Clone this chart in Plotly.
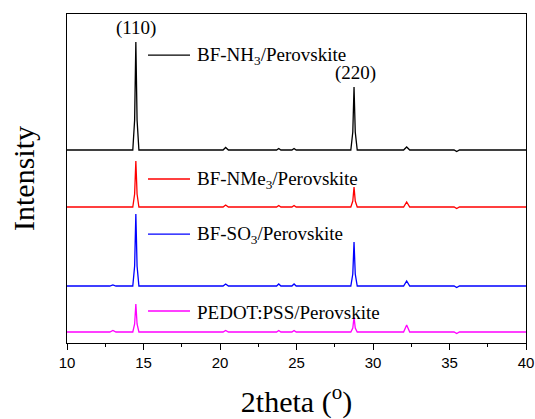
import plotly.graph_objects as go

two_theta = [10, 12.8, 13.0, 13.2, 14.3, 14.42, 14.5, 14.58, 14.7,
             20.2, 20.37, 20.55, 23.7, 23.84, 23.98, 24.7, 24.84, 24.98,
             28.55, 28.68, 28.76, 28.84, 28.97, 32.0, 32.2, 32.4,
             35.3, 35.47, 35.65, 40]

series_names = ["BF-NH<sub>3</sub>/Perovskite", "BF-NMe<sub>3</sub>/Perovskite",
                "BF-SO<sub>3</sub>/Perovskite", "PEDOT:PSS/Perovskite"]
series_colors = ["#000000", "#FF0000", "#0000FF", "#FF00FF"]
offsets = [193, 136, 57, 11]

int_nh3 = [0, 0, 0.5, 0, 0, 30, 108, 30, 0, 0, 2.5, 0, 0, 1.5, 0, 0, 1.5, 0,
           0, 18, 63, 18, 0, 0, 3, 0, 0, -1.5, 0, 0]
int_nme3 = [0, 0, 0.5, 0, 0, 13, 46, 13, 0, 0, 2, 0, 0, 1.5, 0, 0, 1.5, 0,
            0, 6, 20, 6, 0, 0, 5, 0, 0, -1.5, 0, 0]
int_so3 = [0, 0, 1, 0, 0, 20, 72, 20, 0, 0, 2, 0, 0, 2, 0, 0, 2, 0,
           0, 12, 44, 12, 0, 0, 5, 0, 0, -1.5, 0, 0]
int_pedot = [0, 0, 1.5, 0, 0, 8, 28, 8, 0, 0, 1.5, 0, 0, 1.5, 0, 0, 1.5, 0,
             0, 4, 15, 4, 0, 0, 7, 0, 0, -1.5, 0, 0]
intensities = [int_nh3, int_nme3, int_so3, int_pedot]

label_y = [0.875, 0.4985, 0.331, 0.0973]
peak_labels = ["(110)", "(220)"]
peak_label_x = [14.5, 28.85]
peak_label_y = [315, 270]

serif = "Liberation Serif"

fig = go.Figure()
for name, color, off, vals in zip(series_names, series_colors, offsets, intensities):
    fig.add_trace(go.Scatter(x=two_theta, y=[v + off for v in vals], mode="lines",
                             line=dict(color=color, width=1.3), name=name,
                             showlegend=False))

shapes = []
annotations = []
for name, color, ly in zip(series_names, series_colors, label_y):
    shapes.append(dict(type="line", xref="paper", yref="paper", x0=0.1765, x1=0.268,
                       y0=ly, y1=ly, line=dict(color=color, width=1.3)))
    annotations.append(dict(xref="paper", yref="paper", x=0.279, y=ly - 0.004,
                            xanchor="left", yanchor="middle", showarrow=False,
                            text=name, font=dict(family=serif, size=19, color="black")))
for t, px, py in zip(peak_labels, peak_label_x, peak_label_y):
    annotations.append(dict(x=px, y=py, xref="x", yref="y", showarrow=False,
                            xanchor="center", yanchor="middle", text=t,
                            font=dict(family=serif, size=19, color="black")))

fig.update_layout(
    width=535, height=419,
    margin=dict(l=67, r=9, t=14, b=76),
    plot_bgcolor="white", paper_bgcolor="white",
    shapes=shapes, annotations=annotations,
    xaxis=dict(range=[10, 40], tickvals=[10, 15, 20, 25, 30, 35, 40],
               automargin=False,
               ticks="outside", ticklen=6, tickwidth=1, tickcolor="black",
               minor=dict(dtick=2.5, ticks="outside", ticklen=3, tickcolor="black", tickwidth=1),
               showline=True, linecolor="black", linewidth=1, mirror=True,
               showgrid=False, zeroline=False,
               tickfont=dict(family="Liberation Sans", size=15, color="black"),
               title=dict(text="2theta (<sup>o</sup>)", font=dict(family=serif, size=30, color="black"),
                          standoff=20)),
    yaxis=dict(range=[0, 329], showticklabels=False, ticks="",
               automargin=False,
               showline=True, linecolor="black", linewidth=1, mirror=True,
               showgrid=False, zeroline=False,
               title=dict(text="Intensity", font=dict(family=serif, size=30, color="black"),
                          standoff=22)),
)

fig.write_html("out.html")
